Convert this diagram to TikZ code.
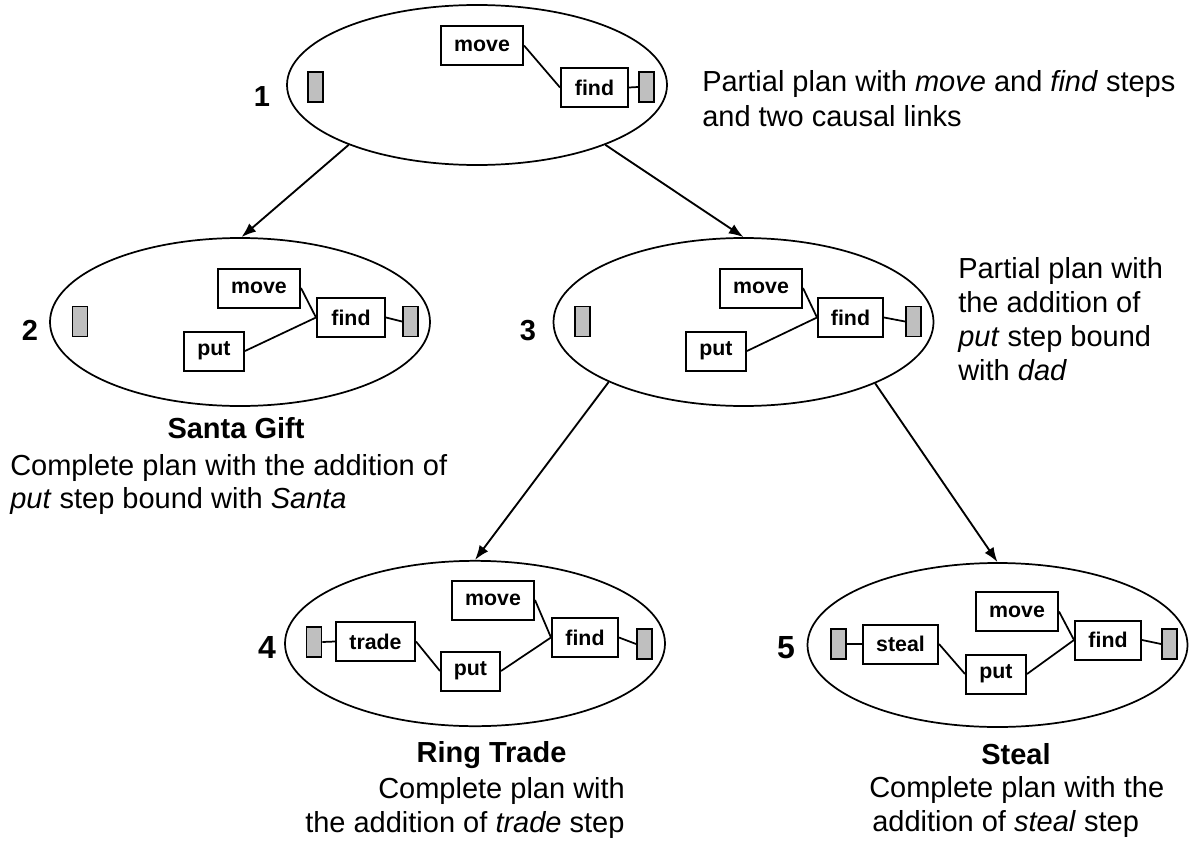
\documentclass[tikz,border=0pt]{standalone}
\usepackage{fontspec}
\setmainfont{Liberation Sans}
\usetikzlibrary{shapes.geometric,arrows.meta}
\definecolor{endgray}{HTML}{BFBFBF}
\tikzset{
  plan/.style={draw, ellipse, line width=1.3pt, inner sep=0pt, minimum width=285pt},
  stepbox/.style={draw, rectangle, line width=1.5pt, fill=white, inner sep=0pt,
    minimum height=29.25pt, minimum width={#1*0.75pt},
    font=\bfseries\fontsize{16}{19}\selectfont},
  stepbox/.default=60,
  endbox/.style={draw, rectangle, line width=1.4pt, fill=endgray, inner sep=0pt,
    minimum width=11.25pt, minimum height=22.5pt},
  link/.style={line width=1.3pt},
  tree/.style={line width=1.4pt, -{Latex[length=11pt,width=8pt]}},
  num/.style={inner sep=0pt, anchor=base, font=\bfseries\fontsize{21.75}{26}\selectfont},
  bignum/.style={inner sep=0pt, anchor=base, font=\bfseries\fontsize{24}{28}\selectfont},
  note/.style={inner sep=0pt, anchor=base west, font=\fontsize{21.75}{26}\selectfont},
  title/.style={inner sep=0pt, anchor=base, font=\bfseries\fontsize{21.75}{26}\selectfont}
}
\begin{document}
\begin{tikzpicture}[x=0.75pt,y=-0.75pt]
\useasboundingbox (0,0) rectangle (1192,842);

% ellipses
\node[plan, minimum height=120pt] (e1) at (477,85) {};
\node[plan, minimum height=126pt] (e2) at (240,322) {};
\node[plan, minimum height=126pt] (e3) at (743.5,322) {};
\node[plan, minimum height=124pt] (e4) at (475,643.5) {};
\node[plan, minimum height=123pt] (e5) at (997.5,645) {};

% tree arrows
\draw[tree] (e1.205) -- (e2.89);
\draw[tree] (e1.335) -- (e3.north);
\draw[tree] (e3.204.5) -- (e4.north);
\draw[tree] (e3.335.5) -- (e5.north);

% plan 1
\node[endbox] (gl1) at (315.5,87) {};
\node[stepbox=82] (move1) at (482,45.5) {move};
\node[stepbox=67] (find1) at (594.5,87.5) {find};
\node[endbox] (gr1) at (646.5,87) {};
\draw[link] (move1.east) -- (find1.west);
\draw[link] (find1.east) -- (gr1.west);

% plan 2
\node[endbox] (gl2) at (80,321.5) {};
\node[stepbox=82] (move2) at (259,288) {move};
\node[stepbox=68] (find2) at (351,317.5) {find};
\node[stepbox=60] (put2) at (214,351) {put};
\node[endbox] (gr2) at (410.5,321.5) {};
\draw[link] (move2.east) -- (find2.west);
\draw[link] (put2.east) -- (find2.west);
\draw[link] (find2.east) -- (gr2.west);

% plan 3
\node[endbox] (gl3) at (582.5,321.5) {};
\node[stepbox=82] (move3) at (761,288) {move};
\node[stepbox=65] (find3) at (850.5,317.5) {find};
\node[stepbox=60] (put3) at (716,351) {put};
\node[endbox] (gr3) at (913.5,321.5) {};
\draw[link] (move3.east) -- (find3.west);
\draw[link] (put3.east) -- (find3.west);
\draw[link] (find3.east) -- (gr3.west);

% plan 4
\node[endbox] (gl4) at (314,642) {};
\node[stepbox=79] (trade4) at (375.5,641.5) {trade};
\node[stepbox=82] (move4) at (493,600) {move};
\node[stepbox=59] (put4) at (470.5,671) {put};
\node[stepbox=66] (find4) at (585,637.5) {find};
\node[endbox] (gr4) at (644.5,644) {};
\draw[link] (gl4.east) -- (trade4.west);
\draw[link] (trade4.east) -- (put4.west);
\draw[link] (move4.east) -- (find4.west);
\draw[link] (put4.east) -- (find4.west);
\draw[link] (find4.east) -- (gr4.west);

% plan 5
\node[endbox] (gl5) at (838.5,644) {};
\node[stepbox=75] (steal5) at (900.5,644) {steal};
\node[stepbox=82] (move5) at (1017,611.5) {move};
\node[stepbox=60] (put5) at (996,674) {put};
\node[stepbox=66] (find5) at (1108,640) {find};
\node[endbox] (gr5) at (1169.5,644) {};
\draw[link] (gl5.east) -- (steal5.west);
\draw[link] (steal5.east) -- (put5.west);
\draw[link] (move5.east) -- (find5.west);
\draw[link] (put5.east) -- (find5.west);
\draw[link] (find5.east) -- (gr5.west);

% numbers
\node[num] (n1) at (262,107) {1};
\node[num] (n2) at (30,340) {2};
\node[num] (n3) at (528,340) {3};
\node[bignum] (n4) at (267,658) {4};
\node[bignum] (n5) at (786,658) {5};

% notes
\node[note] (t1a) at (702,92) {Partial plan with \textit{move} and \textit{find} steps};
\node[note] (t1b) at (702,127) {and two causal links};

\node[note] (t3a) at (958,278) {Partial plan with};
\node[note] (t3b) at (958,312) {the addition of};
\node[note] (t3c) at (958,346) {\textit{put} step bound};
\node[note] (t3d) at (958,380) {with \textit{dad}};

\node[title] (s2) at (236,438) {Santa Gift};
\node[note] (t2a) at (10,475) {Complete plan with the addition of};
\node[note] (t2b) at (10,508) {\textit{put} step bound with \textit{Santa}};

\node[title] (s4) at (491.5,762) {Ring Trade};
\node[note] (t4a) at (378,798) {Complete plan with};
\node[note] (t4b) at (305,832) {the addition of \textit{trade} step};

\node[title] (s5) at (1016,764) {Steal};
\node[note] (t5a) at (869,797) {Complete plan with the};
\node[note] (t5b) at (872,831) {addition of \textit{steal} step};
\end{tikzpicture}
\end{document}
